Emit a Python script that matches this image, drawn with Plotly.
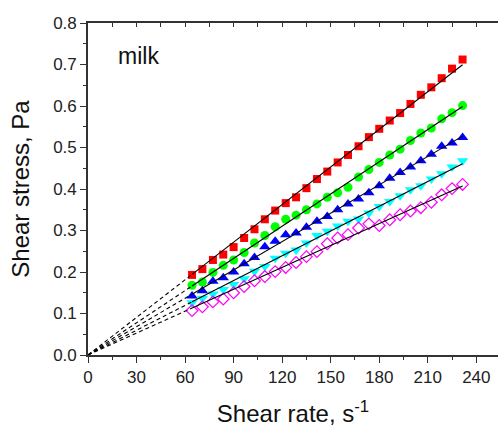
import numpy as np
import plotly.graph_objects as go

shear_rate = [64.3, 70.7, 77.2, 83.6, 90.0, 96.5, 102.9, 109.3, 115.7, 122.2,
              128.6, 135.0, 141.5, 147.9, 154.3, 160.7, 167.2, 173.6, 180.0,
              186.5, 192.9, 199.3, 205.7, 212.2, 218.6, 225.0, 231.5]

s_red = [0.193, 0.207, 0.229, 0.242, 0.260, 0.282, 0.303, 0.327, 0.348, 0.366,
         0.380, 0.402, 0.424, 0.442, 0.464, 0.482, 0.503, 0.525, 0.545, 0.565,
         0.583, 0.605, 0.627, 0.645, 0.667, 0.690, 0.712]
s_green = [0.168, 0.176, 0.199, 0.216, 0.229, 0.247, 0.270, 0.288, 0.309, 0.327,
           0.337, 0.350, 0.364, 0.380, 0.391, 0.404, 0.429, 0.447, 0.464, 0.482,
           0.496, 0.517, 0.535, 0.547, 0.569, 0.584, 0.601]
s_blue = [0.142, 0.155, 0.178, 0.186, 0.200, 0.220, 0.235, 0.261, 0.274, 0.290,
          0.294, 0.308, 0.322, 0.334, 0.350, 0.364, 0.376, 0.391, 0.408, 0.426,
          0.440, 0.453, 0.468, 0.484, 0.503, 0.511, 0.524]
s_cyan = [0.126, 0.137, 0.147, 0.158, 0.170, 0.184, 0.202, 0.213, 0.233, 0.245,
          0.253, 0.270, 0.288, 0.298, 0.311, 0.322, 0.328, 0.342, 0.358, 0.370,
          0.384, 0.398, 0.408, 0.424, 0.437, 0.453, 0.468]
s_magenta = [0.107, 0.116, 0.128, 0.135, 0.150, 0.165, 0.179, 0.189, 0.201, 0.211,
             0.223, 0.237, 0.249, 0.268, 0.282, 0.290, 0.306, 0.316, 0.312, 0.326,
             0.338, 0.347, 0.355, 0.368, 0.386, 0.401, 0.411]

series = [
    (s_red, "#FF0000", "square", 8, None),
    (s_green, "#00FF00", "circle", 9, None),
    (s_blue, "#0000FF", "triangle-up", 10, None),
    (s_cyan, "#00FFFF", "triangle-down", 10, None),
    (s_magenta, "#FF00FF", "diamond-open", 9, 1.2),
]

FONT = "Liberation Sans, Arial, sans-serif"
fig = go.Figure()

x = np.array(shear_rate)
for ys, col, sym, sz, lw in series:
    mk = dict(color=col, symbol=sym, size=sz)
    if lw:
        mk["line"] = dict(color=col, width=lw)
    else:
        mk["line"] = dict(width=0)
    fig.add_trace(go.Scatter(x=shear_rate, y=ys, mode="markers", marker=mk,
                             showlegend=False, hoverinfo="skip"))

for ys, col, sym, sz, lw in series:
    y = np.array(ys)
    k = float((x * y).sum() / (x * x).sum())
    fig.add_trace(go.Scatter(x=[x[0], x[-1]], y=[k * x[0], k * x[-1]], mode="lines",
                             line=dict(color="black", width=1.1),
                             showlegend=False, hoverinfo="skip"))
    fig.add_trace(go.Scatter(x=[0, x[0]], y=[0, k * x[0]], mode="lines",
                             line=dict(color="black", width=1.1, dash="4px,3px"),
                             showlegend=False, hoverinfo="skip"))

# invisible trace to activate top axis
fig.add_trace(go.Scatter(x=[0], y=[0], xaxis="x2", mode="markers",
                         marker=dict(opacity=0), showlegend=False, hoverinfo="skip"))

axcol = "#333333"
fig.update_layout(
    width=498, height=428,
    margin=dict(l=88, r=0, t=23, b=73),
    plot_bgcolor="white", paper_bgcolor="white",
    font=dict(family=FONT, color="#222222"),
    xaxis=dict(range=[0, 253.4], dtick=30, tick0=0, showgrid=False, zeroline=False,
               showline=True, linecolor=axcol, linewidth=1.6,
               ticks="outside", ticklen=6, tickwidth=1.2, tickcolor=axcol,
               minor=dict(dtick=15, ticks="outside", ticklen=3, tickwidth=1.2, tickcolor=axcol),
               tickfont=dict(size=17, family=FONT, color="#222222"),
               title=dict(text="Shear rate, s<sup>-1</sup>", font=dict(size=24, family=FONT, color="#111111"),
                          standoff=19)),
    xaxis2=dict(overlaying="x", side="top", matches="x", showgrid=False, zeroline=False,
                showline=True, linecolor=axcol, linewidth=1.6, showticklabels=False,
                ticks="inside", dtick=15, tick0=0, ticklen=4, tickwidth=1.2, tickcolor=axcol),
    yaxis=dict(range=[0, 0.8], dtick=0.1, tick0=0, showgrid=False, zeroline=False,
               showline=True, linecolor=axcol, linewidth=1.6, tickformat=".1f",
               ticks="outside", ticklen=6, tickwidth=1.2, tickcolor=axcol,
               minor=dict(dtick=0.05, ticks="outside", ticklen=3, tickwidth=1.2, tickcolor=axcol),
               tickfont=dict(size=17, family=FONT, color="#222222"),
               title=dict(text="Shear stress, Pa", font=dict(size=24, family=FONT, color="#111111"),
                          standoff=17)),
    annotations=[dict(text="milk", x=17, y=0.72, xref="x", yref="y", showarrow=False,
                      xanchor="left", yanchor="middle",
                      font=dict(size=23, family=FONT, color="#111111"))],
)

fig.write_html("out.html")
